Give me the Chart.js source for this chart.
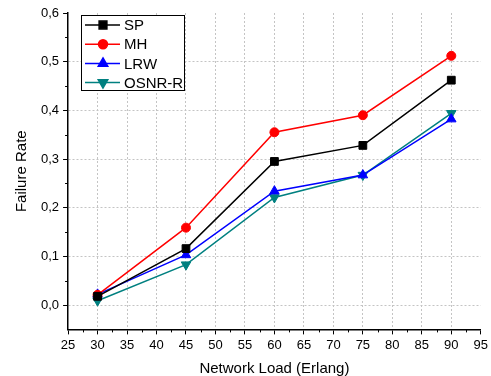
<!DOCTYPE html>
<html>
<head>
<meta charset="utf-8">
<script src="https://cdn.jsdelivr.net/npm/chart.js@4/dist/chart.umd.min.js"></script>
<style>
  html, body { margin: 0; padding: 0; background: #fff; }
  #wrap { width: 491px; height: 376px; }
</style>
</head>
<body>
<div id="wrap"><canvas id="chart" width="491" height="376"></canvas></div>
<script>
// Dados do gráfico
const loads = [30, 45, 60, 75, 90];
const spValues = [0.018, 0.116, 0.295, 0.328, 0.462];
const mhValues = [0.021, 0.159, 0.355, 0.390, 0.512];
const lrwValues = [0.022, 0.103, 0.234, 0.267, 0.382];
const osnrValues = [0.009, 0.083, 0.221, 0.267, 0.394];
const xTicks = [25, 30, 35, 40, 45, 50, 55, 60, 65, 70, 75, 80, 85, 90, 95];
const yTicks = [-0.05, 0, 0.1, 0.2, 0.3, 0.4, 0.5, 0.6];

const FONT = 'Liberation Sans, Arial, sans-serif';

const toPoints = vals => loads.map((x, i) => ({ x: x, y: vals[i] }));

// Ticks menores e legenda com linha + marcador
const extras = {
  id: 'extras',
  afterDraw(chart) {
    const ctx = chart.ctx;
    const xs = chart.scales.x, ys = chart.scales.y;
    ctx.save();
    ctx.strokeStyle = '#000';
    ctx.lineWidth = 1;
    // minor ticks no eixo x
    for (let i = 0; i < xTicks.length - 1; i++) {
      const px = Math.round(xs.getPixelForValue((xTicks[i] + xTicks[i + 1]) / 2)) + 0.5;
      ctx.beginPath();
      ctx.moveTo(px, ys.bottom);
      ctx.lineTo(px, ys.bottom + 3);
      ctx.stroke();
    }
    // minor ticks no eixo y
    for (let i = 1; i < yTicks.length - 1; i++) {
      const py = Math.round(ys.getPixelForValue((yTicks[i] + yTicks[i + 1]) / 2)) + 0.5;
      ctx.beginPath();
      ctx.moveTo(xs.left, py);
      ctx.lineTo(xs.left - 3, py);
      ctx.stroke();
    }

    // legenda
    const bx = 81.5, by = 15.5, bw = 103, bh = 75;
    ctx.fillStyle = '#fff';
    ctx.fillRect(bx, by, bw, bh);
    ctx.strokeStyle = '#000';
    ctx.lineWidth = 1;
    ctx.strokeRect(bx, by, bw, bh);
    ctx.font = '15px ' + FONT;
    ctx.textBaseline = 'middle';
    chart.data.datasets.forEach((ds, i) => {
      const y = 25 + i * 19.2;
      ctx.strokeStyle = ds.borderColor;
      ctx.lineWidth = 1.5;
      ctx.beginPath();
      ctx.moveTo(85, y);
      ctx.lineTo(120, y);
      ctx.stroke();
      ctx.fillStyle = ds.pointBackgroundColor;
      ctx.strokeStyle = ds.borderColor;
      Chart.helpers.drawPoint(ctx, {
        pointStyle: ds.pointStyle,
        radius: ds.pointRadius,
        rotation: ds.pointRotation || 0,
        borderWidth: 1
      }, 103, y);
      ctx.fillStyle = '#000';
      ctx.fillText(ds.label, 124, y + 1);
    });
    ctx.restore();
  }
};

const ctx = document.getElementById('chart').getContext('2d');
new Chart(ctx, {
  type: 'line',
  data: {
    datasets: [
      { label: 'SP', data: toPoints(spValues), borderColor: '#000000', pointBackgroundColor: '#000000', pointStyle: 'rect', pointRadius: 5.5 },
      { label: 'MH', data: toPoints(mhValues), borderColor: '#ff0000', pointBackgroundColor: '#ff0000', pointStyle: 'circle', pointRadius: 4.5 },
      { label: 'LRW', data: toPoints(lrwValues), borderColor: '#0000ff', pointBackgroundColor: '#0000ff', pointStyle: 'triangle', pointRadius: 5.5 },
      { label: 'OSNR-R', data: toPoints(osnrValues), borderColor: '#008080', pointBackgroundColor: '#008080', pointStyle: 'triangle', pointRotation: 180, pointRadius: 5.5 }
    ]
  },
  options: {
    responsive: false,
    animation: false,
    events: [],
    elements: {
      line: { borderWidth: 1.5, tension: 0 },
      point: { borderWidth: 1, hoverRadius: 5 }
    },
    layout: { padding: { left: 9, right: 10, top: 13, bottom: 0 } },
    plugins: {
      legend: { display: false },
      tooltip: { enabled: false }
    },
    scales: {
      x: {
        type: 'linear',
        min: 25,
        max: 95,
        afterBuildTicks: s => { s.ticks = xTicks.map(v => ({ value: v })); },
        ticks: { color: '#000', font: { family: FONT, size: 13 }, padding: 3, maxRotation: 0, autoSkip: false },
        grid: {
          color: c => (c.tick && (c.tick.value === 25 || c.tick.value === 95)) ? 'rgba(0,0,0,0)' : '#c4c4c4',
          lineWidth: 1,
          tickLength: 5,
          tickColor: '#000',
          tickWidth: 1
        },
        border: { display: true, color: '#000', width: 1.5, dash: [2, 2] },
        title: { display: true, text: 'Network Load (Erlang)', color: '#000', font: { family: FONT, size: 15, lineHeight: 1 }, padding: { top: 5, bottom: 0 } }
      },
      y: {
        min: -0.05,
        max: 0.6,
        afterBuildTicks: s => { s.ticks = yTicks.map(v => ({ value: v })); },
        ticks: {
          color: '#000',
          font: { family: FONT, size: 13 },
          padding: 4,
          autoSkip: false,
          callback: v => (v < 0 ? '' : v.toFixed(1).replace('.', ','))
        },
        grid: {
          color: c => (c.tick && (c.tick.value < 0 || c.tick.value >= 0.6)) ? 'rgba(0,0,0,0)' : '#c4c4c4',
          lineWidth: 1,
          tickLength: 5,
          tickColor: c => (c.tick && c.tick.value < 0) ? 'rgba(0,0,0,0)' : '#000',
          tickWidth: 1
        },
        border: { display: true, color: '#000', width: 1.5, dash: [2, 2] },
        title: { display: true, text: 'Failure Rate', color: '#000', font: { family: FONT, size: 15 }, padding: { bottom: 6 } }
      }
    }
  },
  plugins: [extras]
});
</script>
</body>
</html>
